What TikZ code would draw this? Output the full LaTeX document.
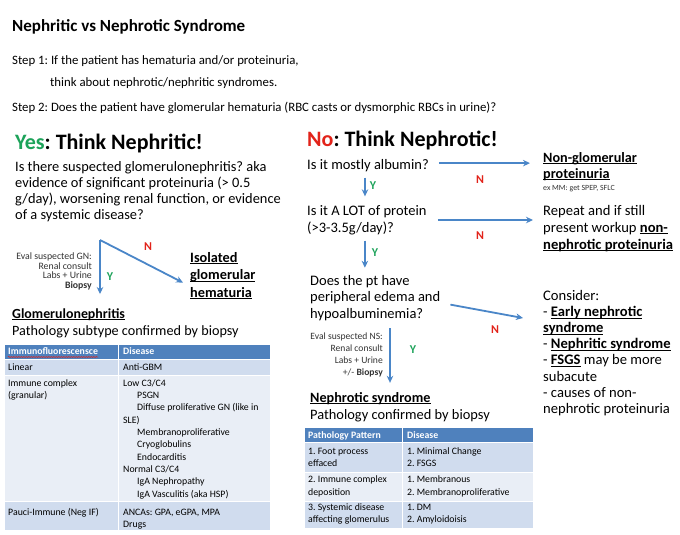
\documentclass[tikz,border=0pt]{standalone}
\usepackage{fontspec}
\setmainfont{Carlito}
\usetikzlibrary{arrows.meta,decorations.pathmorphing}
\frenchspacing

\definecolor{hdrblue}{HTML}{4F81BD}
\definecolor{rowdark}{HTML}{D0DCEE}
\definecolor{rowlight}{HTML}{E9EEF6}
\definecolor{arrowblue}{HTML}{4A86C8}
\definecolor{yesgreen}{HTML}{1DA35A}
\definecolor{nored}{HTML}{E2231A}

\newsavebox{\ulbox}
\newcommand{\ulin}[1]{\sbox{\ulbox}{#1}\rlap{\usebox{\ulbox}}\rule[-2.3pt]{\wd\ulbox}{0.9pt}}

\tikzset{
	txt/.style={anchor=base west, inner sep=0pt, align=left, font=\fontsize{14.5}{16.5}\selectfont},
	bold/.style={txt, font=\bfseries\fontsize{14.2}{16.5}\selectfont},
	big/.style={anchor=base west, inner sep=0pt, font=\bfseries\fontsize{22}{24}\selectfont},
	note/.style={anchor=base east, inner sep=0pt, align=right, text=black!80},
	cell/.style={anchor=base west, inner sep=0pt, align=left, font=\fontsize{9.8}{12.3}\selectfont},
	hcell/.style={cell, text=white, font=\bfseries\fontsize{9.8}{12.3}\selectfont},
	arr/.style={draw=arrowblue, line width=1.8pt, -{Stealth[length=7pt,width=6.5pt]}},
	ylab/.style={text=yesgreen, font=\bfseries\fontsize{12}{12}\selectfont},
	nlab/.style={text=nored, font=\bfseries\fontsize{12}{12}\selectfont}
}

\begin{document}
\begin{tikzpicture}[x=1pt, y=-1pt]
	\useasboundingbox[fill=white] (0,0) rectangle (680,535);

	\node[big, font=\bfseries\fontsize{17}{20}\selectfont] (title) at (12,32) {Nephritic vs Nephrotic Syndrome};
	\node[txt, font=\fontsize{12.8}{15}\selectfont] (step1) at (12,65) {Step 1: If the patient has hematuria and/or proteinuria,};
	\node[txt, font=\fontsize{12.8}{15}\selectfont] (step1b) at (50,87) {think about nephrotic/nephritic syndromes.};
	\node[txt, font=\fontsize{12.8}{15}\selectfont] (step2) at (12,111) {Step 2: Does the patient have glomerular hematuria (RBC casts or dysmorphic RBCs in urine)?};

	% nephritic side
	\node[big] (yes) at (15,149) {\textcolor{yesgreen}{Yes}: Think Nephritic!};
	\node[txt, font=\fontsize{14.4}{16.1}\selectfont] (gnq) at (15,219.3) {Is there suspected glomerulonephritis? aka\\evidence of significant proteinuria (> 0.5\\g/day), worsening renal function, or evidence\\of a systemic disease?};
	\coordinate (gnv) at (100,240);
	\node[note, font=\fontsize{9.8}{9.4}\selectfont] (gneval) at (92,288) {Eval suspected GN:\\Renal consult\\Labs + Urine\\\textbf{Biopsy}};
	\node[bold, font=\bfseries\fontsize{14.3}{17.5}\selectfont] (iso) at (190,297) {\ulin{Isolated}\\\ulin{glomerular}\\\ulin{hematuria}};
	\node[bold, font=\bfseries\fontsize{13.9}{17}\selectfont] (gnhead) at (12,318) {\ulin{Glomerulonephritis}};
	\node[txt, font=\fontsize{14.2}{17}\selectfont] (gnsub) at (12,335) {Pathology subtype confirmed by biopsy};
	\draw[arr] (gnv) -- ([yshift=14pt]gnv |- gnhead.north);
	\draw[arr] (gnv) -- ([xshift=-7pt,yshift=-7pt]iso.west);
	\node[ylab] (gny) at (110,277) {Y};
	\node[nlab] (gnn) at (148,247) {N};

	% glomerulonephritis table
	\fill[hdrblue] (5,345) rectangle (270,359);
	\fill[rowdark] (5,360) rectangle (270,375);
	\fill[rowlight] (5,376) rectangle (270,500.5);
	\fill[rowdark] (5,501.5) rectangle (270,530);
	\draw[white, line width=1pt] (118,345) -- (118,530);
	\node[hcell] (gnh1) at (8,354.5) {Immunofluorescensce};
	\node[hcell] (gnh2) at (123,354.5) {Disease};
	\draw[nored, line width=0.5pt, decorate, decoration={snake, amplitude=0.6pt, segment length=2.5pt}] ([yshift=-2.5pt]gnh1.base west) -- ([yshift=-2.5pt]gnh1.base east);
	\node[cell] (lin) at (8,370.5) {Linear};
	\node[cell] (lind) at (123,370.5) {Anti-GBM};
	\node[cell] (imm) at (8,398.5) {Immune complex\\(granular)};
	\node[cell] (immd) at (123,497) {Low C3/C4\\\hspace*{14pt}PSGN\\\hspace*{14pt}Diffuse proliferative GN (like in\\SLE)\\\hspace*{14pt}Membranoproliferative\\\hspace*{14pt}Cryoglobulins\\\hspace*{14pt}Endocarditis\\Normal C3/C4\\\hspace*{14pt}IgA Nephropathy\\\hspace*{14pt}IgA Vasculitis (aka HSP)};
	\node[cell] (pau) at (8,515) {Pauci-Immune (Neg IF)};
	\node[cell] (paud) at (123,527.3) {ANCAs: GPA, eGPA, MPA\\Drugs};

	% nephrotic side
	\node[big] (no) at (307,146) {\textcolor{nored}{No}: Think Nephrotic!};
	\node[txt] (albq) at (307,169) {Is it mostly albumin?};
	\node[bold, font=\bfseries\fontsize{14.2}{16}\selectfont] (nonglom) at (543,178) {\ulin{Non-glomerular}\\\ulin{proteinuria}};
	\node[anchor=base west, inner sep=0pt, font=\fontsize{7.9}{9}\selectfont, text=black!80] (spep) at (543,190) {ex MM: get SPEP, SFLC};
	\node[txt] (lotq) at (307,232) {Is it A LOT of protein\\(>3-3.5g/day)?};
	\node[txt, font=\fontsize{14.6}{17}\selectfont] (repeat) at (543,249) {Repeat and if still\\present workup \textbf{\ulin{non-}}\\\textbf{\ulin{nephrotic proteinuria}}};
	\node[txt] (edq) at (310,318) {Does the pt have\\peripheral edema and\\hypoalbuminemia?};
	\node[txt, font=\fontsize{14.6}{16.2}\selectfont] (consider) at (543,413.4) {Consider:\\- \textbf{\ulin{Early nephrotic}}\\\textbf{\ulin{syndrome}}\\- \textbf{\ulin{Nephritic syndrome}}\\- \textbf{\ulin{FSGS}} may be more\\subacute\\- causes of non-\\nephrotic proteinuria};
	\node[note, font=\fontsize{9.6}{11.9}\selectfont] (nseval) at (383,375) {Eval suspected NS:\\Renal consult\\Labs + Urine\\+/- \textbf{Biopsy}};
	\node[bold] (nshead) at (310,402) {\ulin{Nephrotic syndrome}};
	\node[txt, font=\fontsize{14.4}{17}\selectfont] (nssub) at (310,419) {Pathology confirmed by biopsy};

	\coordinate (n3end) at (523,318);
	\draw[arr] ([xshift=10pt,yshift=2pt]albq.east) -- ([xshift=-13pt,yshift=2pt]albq.east -| nonglom.west);
	\draw[arr] ([xshift=-3pt,yshift=-6pt]albq.south) -- ([xshift=-3pt,yshift=9pt]albq.south |- lotq.north);
	\draw[arr] ([xshift=11pt]lotq.east) -- ([xshift=-10pt]lotq.east -| repeat.west);
	\draw[arr] ([xshift=-2pt,yshift=-6pt]lotq.south) -- ([xshift=-2pt,yshift=7pt]lotq.south |- edq.north);
	\draw[arr] ([xshift=10pt,yshift=-7pt]edq.east) -- (n3end);
	\draw[arr] ([xshift=7pt,yshift=4pt]nseval.north east) -- ([xshift=7pt,yshift=9pt]nseval.north east |- nshead.north);
	\node[nlab] (n1) at (480,180) {N};
	\node[ylab] (y1) at (373,186) {Y};
	\node[nlab] (n2) at (480,236) {N};
	\node[ylab] (y2) at (375,253) {Y};
	\node[nlab] (n3) at (495,330) {N};
	\node[ylab] (y3) at (413,350) {Y};

	% nephrotic table
	\fill[hdrblue] (305,428) rectangle (533,442);
	\fill[rowdark] (305,443) rectangle (533,472);
	\fill[rowlight] (305,473) rectangle (533,500.5);
	\fill[rowdark] (305,501.5) rectangle (533,528);
	\draw[white, line width=1pt] (402,428) -- (402,528);
	\node[hcell] (nsh1) at (308,438) {Pathology Pattern};
	\node[hcell] (nsh2) at (407,438) {Disease};
	\node[cell] (pat1) at (308,466.5) {1. Foot process\\effaced};
	\node[cell] (dis1) at (407,466.5) {1. Minimal Change\\2. FSGS};
	\node[cell] (pat2) at (308,495) {2. Immune complex\\deposition};
	\node[cell] (dis2) at (407,495) {1. Membranous\\2. Membranoproliferative};
	\node[cell] (pat3) at (308,522.7) {3. Systemic disease\\affecting glomerulus};
	\node[cell] (dis3) at (407,522.7) {1. DM\\2. Amyloidoisis};
\end{tikzpicture}
\end{document}
